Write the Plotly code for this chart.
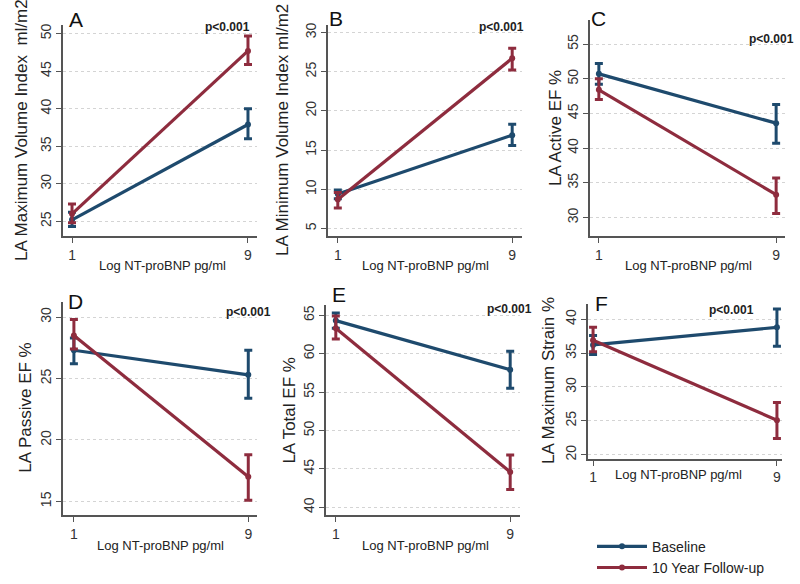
import plotly.graph_objects as go

# ---------------- data ----------------
x_levels = [1, 9]
x_ticks = [1, 9]
x_title = "Log NT-proBNP pg/ml"

panel_letters = ["A", "B", "C", "D", "E", "F"]
y_titles = ["LA Maximum Volume Index  ml/m2", "LA Minimum Volume Index ml/m2",
            "LA Active EF %", "LA Passive EF %", "LA Total EF %", "LA Maximum Strain %"]
p_text = "p<0.001"

base_mean = [[25.2, 37.9], [9.4, 16.9], [50.7, 43.6], [27.3, 25.3], [64.3, 57.9], [36.2, 38.8]]
base_low  = [[24.3, 36.0], [8.8, 15.6], [49.2, 40.7], [26.2, 23.4], [63.3, 55.5], [34.8, 36.0]]
base_high = [[26.2, 40.0], [9.9, 18.3], [52.2, 46.3], [28.3, 27.3], [65.3, 60.3], [37.6, 41.5]]

fu_mean = [[26.0, 47.7], [8.7, 26.7], [48.4, 33.3], [28.5, 17.0], [63.3, 44.6], [36.9, 25.1]]
fu_low  = [[24.8, 45.9], [7.6, 25.2], [47.0, 30.6], [27.4, 15.1], [61.9, 42.3], [35.2, 22.4]]
fu_high = [[27.3, 49.7], [9.6, 28.0], [50.0, 35.7], [29.8, 18.8], [64.9, 46.8], [38.8, 27.7]]

y_tickvals = [[25, 30, 35, 40, 45, 50], [5, 10, 15, 20, 25, 30], [30, 35, 40, 45, 50, 55],
              [15, 20, 25, 30], [40, 45, 50, 55, 60, 65], [20, 25, 30, 35, 40]]
y_ranges = [[23.0, 51.2], [4.0, 31.0], [27.3, 58.5], [13.9, 31.2], [39.0, 66.3], [19.4, 42.2]]

series_names = ["Baseline", "10 Year Follow-up"]

# ---------------- layout geometry (pixels) ----------------
W, H = 800, 584
BASE_C = "#1e4a6d"
FU_C = "#8e2c3e"
FONT = "Liberation Sans, Arial, sans-serif"

boxes = [  # x0, x1, ytop, ybottom
    (63, 257, 23, 238),
    (328, 522, 23, 238),
    (590, 785, 18, 238),
    (63, 257, 305, 521),
    (326, 520, 308, 521),
    (588, 782, 307, 464),
]
x_ranges = [[0.59, 9.41], [0.55, 9.45], [0.6, 9.4], [0.5, 9.4], [0.55, 9.45], [0.78, 9.22]]
ytitle_pos = [(22, 130), (283, 130), (555, 128), (26, 412), (290, 415), (548, 385)]
letter_pos = [(76, 18), (336, 17), (598, 17), (75, 304), (339, 297), (601, 306)]
p_pos = [(228, 25), (501, 25), (771, 38), (248, 315), (510, 312), (731, 313)]
xtitle_pos = [(162, 268), (425, 268), (688, 268), (160, 552), (425, 552), (678, 480)]

fig = go.Figure()
annotations = []

def px(x):
    return x / W

def py(y):
    return 1 - y / H

for i in range(6):
    sfx = "" if i == 0 else str(i + 1)
    xa, ya = "x" + sfx, "y" + sfx
    for name, mean, lo, hi, col in [
        (series_names[0], base_mean[i], base_low[i], base_high[i], BASE_C),
        (series_names[1], fu_mean[i], fu_low[i], fu_high[i], FU_C),
    ]:
        fig.add_trace(go.Scatter(
            x=x_levels, y=mean, xaxis=xa, yaxis=ya, name=name,
            mode="lines+markers", showlegend=(i == 0),
            line=dict(color=col, width=3.2),
            marker=dict(color=col, size=6),
            error_y=dict(type="data", symmetric=False,
                         array=[h - m for h, m in zip(hi, mean)],
                         arrayminus=[m - l for m, l in zip(mean, lo)],
                         color=col, thickness=3, width=4),
        ))
    x0, x1, yt, yb = boxes[i]
    fig.layout["xaxis" + sfx] = dict(
        domain=[px(x0), px(x1)], anchor=ya, range=x_ranges[i],
        tickvals=x_ticks, ticks="outside", ticklen=5, tickcolor="#555",
        showline=True, linecolor="#555", linewidth=1.5, showgrid=False, zeroline=False,
        tickfont=dict(family=FONT, size=14, color="#333"), fixedrange=True,
    )
    fig.layout["yaxis" + sfx] = dict(
        domain=[py(yb), py(yt)], anchor=xa, range=y_ranges[i],
        tickvals=y_tickvals[i], tickangle=-90, ticks="outside", ticklen=5, tickcolor="#555",
        showline=True, linecolor="#555", linewidth=1.5, zeroline=False,
        showgrid=True, gridcolor="#d4d4d4", griddash="dot", gridwidth=1,
        tickfont=dict(family=FONT, size=14, color="#333"), fixedrange=True,
    )
    tx, ty = ytitle_pos[i]
    annotations.append(dict(x=px(tx), y=py(ty), xref="paper", yref="paper", text=y_titles[i],
                            textangle=-90, showarrow=False, xanchor="center", yanchor="middle",
                            font=dict(family=FONT, size=17, color="#222")))
    lx, ly = letter_pos[i]
    annotations.append(dict(x=px(lx), y=py(ly), xref="paper", yref="paper", text=panel_letters[i],
                            showarrow=False, xanchor="center", yanchor="middle",
                            font=dict(family=FONT, size=21, color="#111")))
    ppx, ppy = p_pos[i]
    annotations.append(dict(x=px(ppx), y=py(ppy), xref="paper", yref="paper",
                            text="<b>" + p_text + "</b>",
                            showarrow=False, xanchor="center", yanchor="middle",
                            font=dict(family=FONT, size=12, color="#222")))
    xtx, xty = xtitle_pos[i]
    annotations.append(dict(x=px(xtx), y=py(xty), xref="paper", yref="paper", text=x_title,
                            showarrow=False, xanchor="center", yanchor="middle",
                            font=dict(family=FONT, size=13, color="#222")))

fig.update_layout(
    width=W, height=H, margin=dict(l=0, r=0, t=0, b=0),
    paper_bgcolor="white", plot_bgcolor="white",
    annotations=annotations,
    legend=dict(x=px(592), y=py(537), xanchor="left", yanchor="top",
                font=dict(family=FONT, size=14, color="#222"),
                bgcolor="rgba(0,0,0,0)", tracegroupgap=0, itemwidth=50),
    showlegend=True,
)

fig.write_html("out.html", config={"displayModeBar": False},
               post_script="document.body.style.margin='0';document.body.style.overflow='hidden';")
